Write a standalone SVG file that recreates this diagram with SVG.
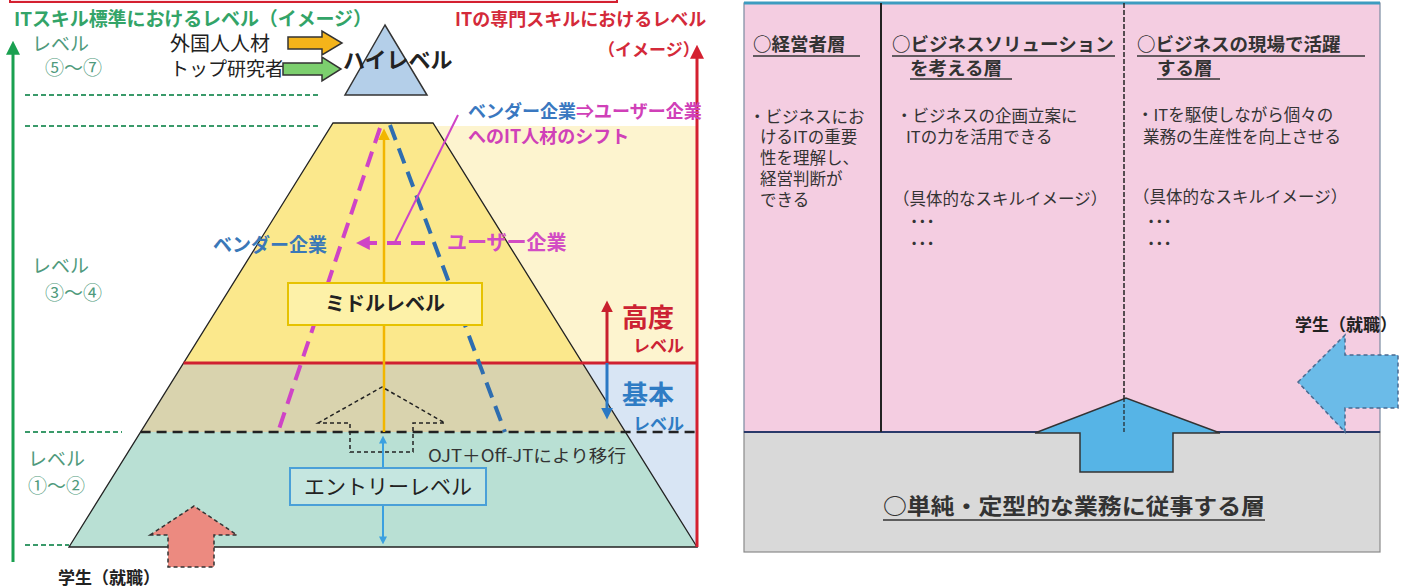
<svg xmlns="http://www.w3.org/2000/svg" width="1409" height="587" viewBox="0 0 1409 587">
<defs>
<style>
text{font-family:"Noto Sans CJK JP","Noto Sans CJK SC",sans-serif;}
.b{font-weight:bold}
.gr{fill:#4f9a7c;font-size:19px}
.blk{fill:#222}
.rt{fill:#333;font-size:16.5px}
.hd{fill:#333;font-size:18.5px;font-weight:bold}
.ul{stroke:#333;stroke-width:1.6}
.ggd{stroke:#3a9a6a;stroke-width:2;stroke-dasharray:5,3}
</style>
<marker id="mRed" viewBox="0 0 10 10" refX="2" refY="5" markerUnits="userSpaceOnUse" markerWidth="14" markerHeight="14" orient="auto"><path d="M0,0 L10,5 L0,10 z" fill="#d42030"/></marker>
<marker id="mRed2" viewBox="0 0 10 10" refX="2" refY="5" markerUnits="userSpaceOnUse" markerWidth="12" markerHeight="12" orient="auto"><path d="M0,0 L10,5 L0,10 z" fill="#c8202e"/></marker>
<marker id="mBlue" viewBox="0 0 10 10" refX="2" refY="5" markerUnits="userSpaceOnUse" markerWidth="12" markerHeight="12" orient="auto"><path d="M0,0 L10,5 L0,10 z" fill="#2a78c4"/></marker>
<marker id="mGreen" viewBox="0 0 10 10" refX="2" refY="5" markerUnits="userSpaceOnUse" markerWidth="14" markerHeight="14" orient="auto"><path d="M0,0 L10,5 L0,10 z" fill="#1aa050"/></marker>
<marker id="mYel" viewBox="0 0 10 10" refX="2" refY="5" markerUnits="userSpaceOnUse" markerWidth="12" markerHeight="12" orient="auto"><path d="M0,0 L10,5 L0,10 z" fill="#f2b600"/></marker>
<marker id="mLb" viewBox="0 0 10 10" refX="2" refY="5" markerUnits="userSpaceOnUse" markerWidth="8" markerHeight="8" orient="auto-start-reverse"><path d="M0,0 L10,5 L0,10 z" fill="#3aa0e0"/></marker>
<marker id="mMag" viewBox="0 0 10 10" refX="2" refY="5" markerUnits="userSpaceOnUse" markerWidth="14" markerHeight="14" orient="auto"><path d="M0,0 L10,5 L0,10 z" fill="#cf44c6"/></marker>
</defs>
<rect width="1409" height="587" fill="#ffffff"/>

<!-- LEFT PANEL -->
<g id="left-header">
<rect x="10" y="-20" width="607" height="22" fill="#fde4ea" stroke="#d42030" stroke-width="2"/>
<text x="14" y="26" class="b" font-size="19" fill="#33a468" textLength="358">ITスキル標準におけるレベル（イメージ）</text>
<text x="455" y="26" class="b" font-size="18" fill="#d42a3a">ITの専門スキルにおけるレベル</text>
<text x="598" y="56" class="b" font-size="17" fill="#d42a3a">（イメージ）</text>
</g>

<g id="background-areas">
<polygon points="435,126 697,126 697,363 582.4,363" fill="#fdf4cf"/>
<polygon points="582.4,363 697,363 697,547" fill="#d8e5f4"/>
</g>

<g id="pyramid">
<polygon points="333,123 433,123 582.4,363 183.6,363" fill="#fbe88c"/>
<polygon points="183.6,363 582.4,363 625.4,432 140.6,432" fill="#d9d3ae"/>
<polygon points="140.6,432 625.4,432 697,547 69,547" fill="#b9e0d4"/>
<polygon points="333,123 433,123 697,547 69,547" fill="none" stroke="#222" stroke-width="1.3"/>
</g>

<g id="level-labels">
<text x="32" y="51" class="gr">レベル</text>
<text x="45" y="75" class="gr">⑤〜⑦</text>
<text x="32" y="273" class="gr">レベル</text>
<text x="45" y="300" class="gr">③〜④</text>
<text x="28" y="466" class="gr">レベル</text>
<text x="28" y="493" class="gr">①〜②</text>
<line x1="25" y1="95" x2="318" y2="95" class="ggd"/>
<line x1="25" y1="126" x2="318" y2="126" class="ggd"/>
<line x1="25" y1="432" x2="122" y2="432" class="ggd"/>
<line x1="25" y1="545" x2="69" y2="545" class="ggd"/>
</g>

<g id="high-level">
<polygon points="385,25 345,95 427,95" fill="#b4cfe9" stroke="#333" stroke-width="1.5"/>
<text x="343" y="68" class="b blk" font-size="22">ハイレベル</text>
</g>

<g id="foreign-talent">
<text x="170" y="51" class="blk" font-size="20">外国人人材</text>
<polygon points="288,37 322,37 322,31 342,43 322,55 322,49 288,49" fill="#f4b41a" stroke="#333" stroke-width="1.5"/>
</g>
<g id="top-researcher">
<text x="170" y="76" class="blk" font-size="19">トップ研究者</text>
<polygon points="283,63 322,63 322,57 341,69 322,81 322,75 283,75" fill="#7ccf6e" stroke="#333" stroke-width="1.5"/>
</g>

<g id="connectors">
<line x1="13" y1="562" x2="13" y2="52" stroke="#1aa050" stroke-width="3" marker-end="url(#mGreen)"/>
<line x1="697" y1="547" x2="697" y2="56" stroke="#d42030" stroke-width="3" marker-end="url(#mRed)"/>
<line x1="183.6" y1="363" x2="697" y2="363" stroke="#d02030" stroke-width="3"/>
<line x1="140.6" y1="432" x2="697" y2="432" stroke="#222" stroke-width="2.5" stroke-dasharray="10,6"/>
<line x1="384" y1="432" x2="384" y2="138" stroke="#f2b600" stroke-width="2.5" marker-end="url(#mYel)"/>
<line x1="383" y1="442" x2="383" y2="538" stroke="#3aa0e0" stroke-width="2" marker-start="url(#mLb)" marker-end="url(#mLb)"/>
<line x1="380" y1="128" x2="278" y2="432" stroke="#cf44c6" stroke-width="4" stroke-dasharray="16,9"/>
<line x1="390" y1="125" x2="505" y2="432" stroke="#2e6db0" stroke-width="4" stroke-dasharray="16,9"/>
<line x1="458" y1="115" x2="395" y2="242" stroke="#cf44c6" stroke-width="2"/>
<line x1="425" y1="243" x2="367" y2="243" stroke="#cf44c6" stroke-width="4" stroke-dasharray="14,10" marker-end="url(#mMag)"/>
<line x1="607" y1="363" x2="607" y2="310" stroke="#c8202e" stroke-width="3" marker-end="url(#mRed2)"/>
<line x1="607" y1="363" x2="607" y2="410" stroke="#2a78c4" stroke-width="3" marker-end="url(#mBlue)"/>
</g>

<g id="shift-labels">
<text x="468" y="118" class="b" font-size="18"><tspan fill="#3a78c0">ベンダー企業</tspan><tspan fill="#d040b8">⇒ユーザー企業</tspan></text>
<text x="468" y="143" class="b" font-size="18" fill="#d040b8">へのIT人材のシフト</text>
<text x="213" y="252" class="b" font-size="19" fill="#3a78b8">ベンダー企業</text>
<text x="447" y="250" class="b" font-size="20" fill="#d24cc4">ユーザー企業</text>
</g>

<g id="middle-level">
<rect x="288" y="283" width="194" height="42" fill="#fdf1a8" stroke="#e6c200" stroke-width="2"/>
<text x="385" y="311" class="b blk" font-size="20" text-anchor="middle">ミドルレベル</text>
</g>

<g id="advanced-basic">
<text x="622" y="327" class="b" font-size="26" fill="#cc2233">高度</text>
<text x="633" y="352" class="b" font-size="17" fill="#cc2233">レベル</text>
<text x="622" y="404" class="b" font-size="26" fill="#2f7cc4">基本</text>
<text x="633" y="430" class="b" font-size="17" fill="#2f7cc4">レベル</text>
</g>

<g id="ojt">
<polygon points="318,423 382,387 445,423 413,423 413,452 350,452 350,423" fill="none" stroke="#222" stroke-width="1.5" stroke-dasharray="4,3"/>
<text x="428" y="462" fill="#333" font-size="17" textLength="198" lengthAdjust="spacingAndGlyphs">OJT＋Off-JTにより移行</text>
</g>

<g id="entry-level">
<rect x="290" y="468" width="196" height="37" fill="#c5e6e0" stroke="#4aa0d8" stroke-width="2"/>
<text x="388" y="494" class="blk" font-size="21" text-anchor="middle">エントリーレベル</text>
</g>

<g id="student-left">
<polygon points="150,535 194,506 237,535 214,535 214,567 168,567 168,535" fill="#ec8a80" stroke="#333" stroke-width="1.5" stroke-dasharray="4,3"/>
<text x="58" y="584" class="b blk" font-size="17">学生（就職）</text>
</g>

<!-- RIGHT PANEL -->
<g id="right-panel">
<rect x="744" y="3" width="636" height="429" fill="#f4cde1" stroke="#7a8aa0" stroke-width="1.2"/>
<line x1="744" y1="3" x2="1380" y2="3" stroke="#3d9cc0" stroke-width="3"/>
<rect x="744" y="432" width="636" height="120" fill="#d9d9d9" stroke="#8a8a8a" stroke-width="1.2"/>
<line x1="744" y1="432" x2="1380" y2="432" stroke="#2a3a6a" stroke-width="2"/>
<line x1="881" y1="3" x2="881" y2="432" stroke="#222" stroke-width="2"/>
<line x1="1124" y1="3" x2="1124" y2="432" stroke="#222" stroke-width="1.5" stroke-dasharray="5,2"/>
</g>

<g id="executive-layer">
<text x="753" y="51" class="hd">○経営者層</text>
<line x1="753" y1="56" x2="860" y2="56" class="ul"/>
<text x="749" y="123" class="rt">・ビジネスにお</text>
<text x="760" y="143" class="rt">けるITの重要</text>
<text x="760" y="164" class="rt">性を理解し、</text>
<text x="760" y="185" class="rt">経営判断が</text>
<text x="760" y="206" class="rt">できる</text>
</g>

<g id="solution-layer">
<text x="892" y="51" class="hd">○ビジネスソリューション</text>
<line x1="892" y1="56" x2="1115" y2="56" class="ul"/>
<text x="910" y="75" class="hd">を考える層</text>
<line x1="910" y1="79" x2="1012" y2="79" class="ul"/>
<text x="896" y="122" class="rt">・ビジネスの企画立案に</text>
<text x="906" y="143" class="rt">ITの力を活用できる</text>
<text x="893" y="205" class="rt" font-size="16">（具体的なスキルイメージ）</text>
<text x="910" y="228" class="rt b">･･･</text>
<text x="910" y="250" class="rt b">･･･</text>
</g>

<g id="field-layer">
<text x="1137" y="51" class="hd">○ビジネスの現場で活躍</text>
<line x1="1137" y1="56" x2="1365" y2="56" class="ul"/>
<text x="1157" y="75" class="hd">する層</text>
<line x1="1157" y1="79" x2="1220" y2="79" class="ul"/>
<text x="1137" y="121" class="rt">・ITを駆使しながら個々の</text>
<text x="1143" y="143" class="rt">業務の生産性を向上させる</text>
<text x="1133" y="203" class="rt" font-size="16">（具体的なスキルイメージ）</text>
<text x="1147" y="228" class="rt b">･･･</text>
<text x="1147" y="250" class="rt b">･･･</text>
</g>

<g id="routine-layer">
<polygon points="1035,433 1126,398 1220,433 1173,433 1173,472 1080,472 1080,433" fill="#56b4e6" stroke="#333" stroke-width="1.5"/>
<line x1="1124" y1="398" x2="1124" y2="432" stroke="#222" stroke-width="1.2" stroke-dasharray="4,2"/>
<text x="883" y="514" class="b" fill="#333" font-size="22" textLength="382" lengthAdjust="spacingAndGlyphs">○単純・定型的な業務に従事する層</text>
<line x1="883" y1="520" x2="1265" y2="520" class="ul"/>
</g>

<g id="student-right">
<polygon points="1298,382 1345,335 1345,355 1398,355 1398,408 1345,408 1345,432" fill="#6bbbe8" stroke="#4a6a90" stroke-width="1.5" stroke-dasharray="4,3"/>
<text x="1295" y="331" class="b blk" font-size="17">学生（就職）</text>
</g>
</svg>
